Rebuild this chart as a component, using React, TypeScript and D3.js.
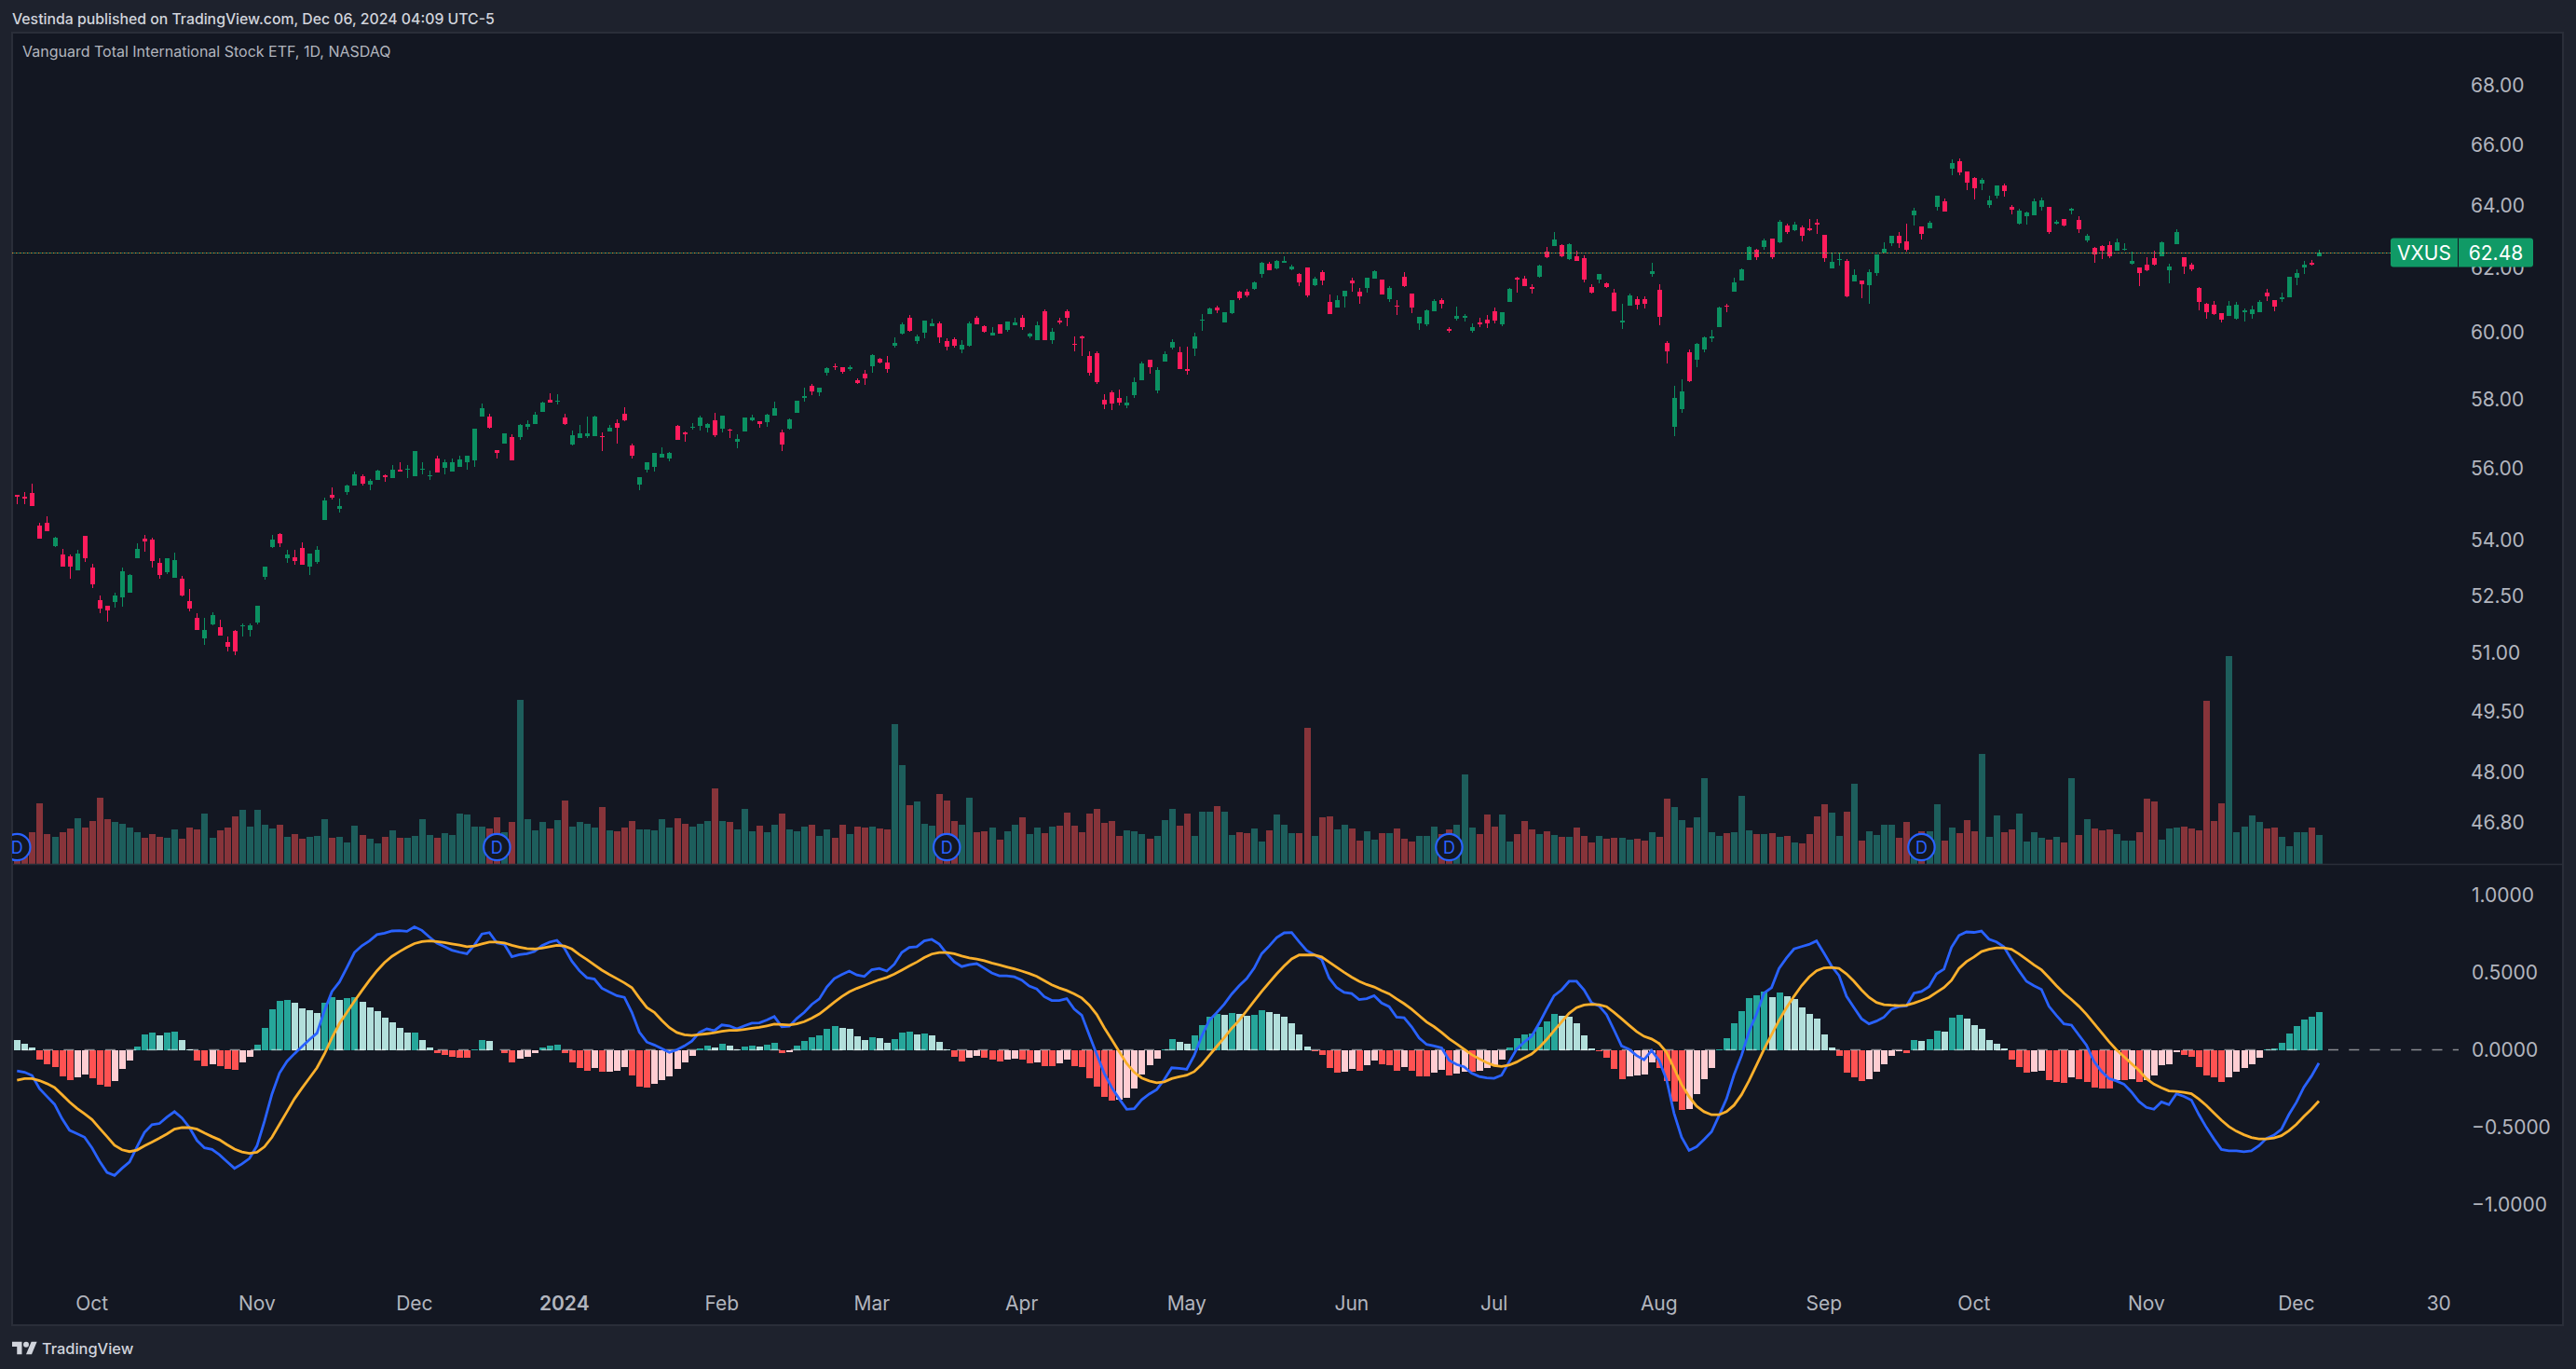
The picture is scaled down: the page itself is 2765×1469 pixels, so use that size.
import * as d3 from 'd3'

// VXUS daily bars (oldest first)
const opens = [
  55.24,55.21,55.31,54.40,54.48,53.84,53.61,53.56,53.18,54.12,
  53.26,52.38,52.24,52.33,52.46,52.58,53.51,54.04,54.01,53.38,
  53.13,52.98,52.95,52.35,51.91,51.38,51.74,51.67,51.28,51.56,
  51.70,51.60,51.79,53.00,53.81,54.17,53.49,53.52,53.79,53.28,
  53.39,54.54,55.26,54.87,55.34,55.50,55.78,55.55,55.67,55.80,
  55.73,55.97,55.97,55.78,55.97,55.77,56.28,56.02,55.90,56.05,
  56.16,56.23,57.50,57.50,56.53,56.71,56.90,56.90,57.20,57.28,
  57.63,57.98,57.93,57.47,56.68,56.87,56.92,56.92,56.92,57.05,
  57.31,57.57,56.66,55.53,55.96,
  56.04,56.30,56.28,57.22,57.03,57.16,57.22,57.16,57.38,57.14,
  57.11,56.76,57.06,57.38,57.36,57.33,57.52,57.03,57.14,57.60,
  58.03,58.39,58.20,58.78,58.98,58.95,58.90,58.56,58.76,58.98,
  59.20,59.09,59.60,59.96,60.45,59.74,59.99,60.19,60.28,59.74,
  59.79,59.49,59.60,60.45,60.19,59.91,60.25,60.08,60.22,60.45,
  59.88,59.77,60.65,59.77,60.36,60.65,59.66,59.88,59.29,59.37,
  57.98,58.20,58.03,57.82,58.12,58.56,59.18,58.26,59.12,59.54,
  59.40,58.90,59.51,60.36,60.56,60.76,60.30,60.59,61.25,61.25,
  61.33,61.80,62.12,61.97,62.15,61.95,61.80,
  62.00,61.45,61.86,60.93,60.76,61.10,61.60,61.25,61.36,61.65,
  61.62,61.02,60.82,61.71,61.19,60.28,60.25,60.65,60.99,60.11,
  60.42,60.45,60.05,60.30,60.39,60.65,60.25,60.93,61.68,61.65,
  61.39,61.71,62.51,62.69,62.72,62.27,62.36,62.30,61.39,61.62,
  61.51,61.22,60.30,60.82,61.02,61.02,61.80,61.30,59.68,57.19,
  57.71,59.40,59.18,59.48,59.82,60.16,60.82,61.25,61.60,62.24,
  62.57,62.66,62.92,62.80,63.34,63.19,63.28,63.25,63.43,63.04,
  61.97,62.24,62.21,61.57,61.60,61.45,61.83,62.48,62.78,63.01,
  62.83,63.67,63.31,63.25,63.94,64.12,65.19,
  65.44,65.10,64.89,64.70,64.00,64.30,64.64,63.94,63.40,63.64,
  63.67,63.94,63.94,63.40,63.55,63.82,63.52,62.86,62.63,62.69,
  62.72,62.54,62.57,62.12,62.00,62.09,62.30,62.36,61.92,62.75,
  62.33,62.09,61.36,60.87,60.84,60.59,60.50,60.42,60.62,60.56,
  60.62,61.22,60.99,61.02,61.07,61.68,62.00,62.15,62.36,
]

const highs = [
  55.26,55.34,55.57,54.46,54.66,54.10,53.76,53.60,53.74,54.12,
  53.36,52.51,52.24,52.58,53.26,53.07,53.92,54.14,54.07,53.50,
  53.50,53.66,53.02,52.68,52.04,51.91,52.06,51.87,51.43,51.59,
  51.76,51.77,52.24,53.28,54.14,54.19,53.72,53.72,53.94,53.64,
  53.84,55.17,55.47,55.15,55.55,55.92,55.83,55.70,55.95,55.82,
  56.10,56.16,56.08,56.50,56.18,55.93,56.37,56.25,56.27,56.35,
  56.35,57.14,57.88,57.57,56.53,57.01,56.97,57.27,57.38,57.63,
  57.93,58.18,58.15,57.57,57.09,57.25,57.50,57.52,57.02,57.25,
  57.41,57.77,56.71,55.76,56.18,
  56.44,56.60,56.47,57.25,57.06,
  57.30,57.52,57.30,57.60,57.52,57.14,56.98,57.47,57.55,57.36,
  57.57,57.93,57.11,57.44,57.95,58.34,58.45,58.34,58.95,59.06,
  58.95,59.01,58.62,58.87,59.34,59.23,59.29,59.85,60.30,60.53,
  59.94,60.36,60.42,60.33,59.82,59.85,59.77,60.33,60.50,60.22,
  60.16,60.25,60.33,60.45,60.53,59.99,60.33,60.70,60.13,60.45,
  60.70,59.88,59.91,59.43,59.43,58.15,58.26,58.28,58.09,58.65,
  59.12,59.18,58.95,59.43,59.79,59.57,59.57,59.99,60.56,60.76,
  60.82,60.62,60.99,61.28,61.33,61.57,62.18,62.18,62.24,62.36,
  62.09,61.83,62.00,61.71,61.92,61.16,61.13,61.27,61.68,61.36,
  61.68,61.92,61.62,61.42,60.99,61.86,61.19,60.47,60.70,61.02,
  61.04,60.16,60.79,60.56,60.28,60.45,60.53,60.76,60.62,61.36,
  61.71,61.74,61.48,62.09,62.66,63.13,62.75,62.78,62.54,62.39,
  61.48,61.80,61.54,61.33,60.87,61.19,61.10,61.10,62.15,61.48,
  59.74,58.39,58.58,59.48,59.68,59.88,60.08,60.79,60.87,61.68,
  61.97,62.69,62.60,62.92,62.92,63.52,63.40,63.46,63.34,63.55,
  63.55,63.04,62.48,62.48,62.27,61.94,61.60,61.94,62.42,62.80,
  63.01,63.13,63.40,63.91,63.31,63.49,64.30,64.21,65.50,65.54,
  65.10,64.92,64.89,64.30,64.64,64.70,64.00,63.88,63.79,64.21,
  64.24,63.94,63.52,63.55,63.91,63.64,63.07,62.66,62.72,62.83,
  62.92,62.78,62.51,62.00,62.33,62.54,62.83,62.12,63.22,62.33,
  62.15,61.39,60.90,60.96,60.59,60.96,60.93,60.73,60.82,60.99,
  61.33,60.99,61.22,61.71,61.94,62.21,62.24,62.57,
]

const lows = [
  55.00,55.00,54.94,54.04,54.23,53.80,53.28,52.95,53.18,53.40,
  52.71,52.02,51.80,52.18,52.21,52.58,53.51,53.69,53.26,52.95,
  53.08,52.98,52.48,52.09,51.60,51.19,51.72,51.45,51.02,50.94,
  51.43,51.43,51.74,52.93,53.79,53.81,53.38,53.33,53.32,53.06,
  53.36,54.54,55.12,54.76,55.26,55.50,55.50,55.37,55.66,55.63,
  55.71,55.90,55.73,55.78,55.83,55.66,55.87,55.83,55.90,56.05,
  55.95,56.03,57.50,57.14,56.28,56.71,56.23,56.82,57.10,57.28,
  57.63,57.91,57.83,57.25,56.66,56.87,56.87,56.92,56.50,57.05,
  56.71,57.34,56.28,55.38,55.87,
  55.91,56.30,56.20,56.82,56.76,
  57.11,57.08,57.03,56.90,57.03,56.87,56.57,57.06,57.36,57.16,
  57.19,57.52,56.49,57.11,57.60,57.93,58.12,58.09,58.70,58.87,
  58.76,58.84,58.45,58.42,58.78,59.06,58.78,59.54,59.94,60.02,
  59.66,59.82,60.19,59.68,59.46,59.54,59.37,59.57,60.25,59.99,
  59.91,59.96,60.02,60.22,60.08,59.82,59.77,59.77,59.66,60.25,
  60.19,59.43,59.29,58.70,58.45,57.71,57.68,57.82,57.74,58.03,
  58.56,58.76,58.17,59.12,59.49,58.90,58.73,59.29,60.05,60.56,
  60.59,60.30,60.56,60.99,61.07,61.30,61.68,61.92,61.95,62.15,
  61.92,61.42,61.07,61.42,61.45,60.56,60.76,60.76,61.25,60.87,
  61.22,61.65,61.16,60.93,60.53,61.39,60.59,60.08,60.19,60.65,
  60.73,59.99,60.36,60.33,59.99,60.16,60.13,60.28,60.19,60.93,
  61.22,61.42,61.19,61.68,62.30,62.69,62.33,62.24,62.21,61.54,
  61.19,61.51,61.36,60.65,60.11,60.82,60.70,60.73,61.71,60.22,
  59.06,56.92,57.60,58.50,58.95,59.40,59.71,60.16,60.62,61.25,
  61.60,62.24,62.24,62.57,62.27,62.78,63.07,63.16,62.83,63.16,
  63.07,62.18,61.97,62.06,61.07,61.57,61.04,60.87,61.74,62.48,
  62.69,62.63,62.51,63.34,62.89,63.25,63.82,63.79,64.98,64.98,
  64.49,64.18,64.49,63.91,64.21,64.27,63.70,63.37,63.37,63.67,
  63.82,63.07,63.37,63.31,63.70,63.10,62.80,62.15,62.27,62.30,
  62.54,62.54,62.09,61.42,61.89,62.06,62.36,61.51,62.75,61.80,
  61.89,60.67,60.42,60.53,60.30,60.50,60.39,60.33,60.42,60.62,
  60.96,60.65,60.93,61.07,61.45,61.80,62.06,62.36,
]

const closes = [
  55.19,55.14,54.94,54.04,54.24,54.06,53.28,53.28,53.63,53.49,
  52.80,52.16,52.11,52.51,53.15,53.06,53.76,53.96,53.43,53.06,
  53.49,53.46,52.51,52.16,51.60,51.60,51.99,51.45,51.15,51.04,
  51.72,51.70,52.24,53.28,54.01,53.92,53.61,53.43,53.33,53.63,
  53.74,55.10,55.17,54.94,55.52,55.83,55.57,55.65,55.93,55.76,
  55.96,55.92,56.00,56.50,56.00,55.81,55.87,56.16,56.16,56.26,
  56.35,57.14,57.74,57.17,56.45,56.99,56.23,57.25,57.28,57.55,
  57.91,57.91,57.96,57.28,56.95,56.99,57.01,57.50,56.90,57.17,
  57.17,57.37,56.35,55.76,56.18,
  56.44,56.41,56.44,56.82,56.98,57.19,57.47,57.27,56.95,57.52,
  57.08,56.84,57.47,57.47,57.27,57.55,57.74,56.68,57.41,57.95,
  58.09,58.23,58.34,58.93,58.95,58.81,58.95,58.48,58.62,59.32,
  59.09,58.90,59.68,60.25,60.05,59.88,60.36,60.28,59.85,59.57,
  59.60,59.63,60.28,60.25,60.02,59.99,59.96,60.33,60.30,60.16,
  59.96,60.22,59.77,60.02,60.30,60.45,59.64,59.82,58.78,58.50,
  57.84,57.87,57.90,57.90,58.50,59.06,58.95,58.87,59.34,59.71,
  58.90,58.84,59.88,60.39,60.73,60.67,60.62,60.99,61.04,61.13,
  61.54,62.15,61.92,62.21,62.21,62.03,61.54,
  61.13,61.65,61.60,60.56,60.99,61.27,61.51,61.10,61.68,61.89,
  61.16,61.36,60.79,61.42,60.76,60.47,60.67,60.96,60.87,60.05,
  60.50,60.50,60.16,60.25,60.28,60.36,60.62,61.33,61.62,61.42,
  61.33,62.06,62.33,62.89,62.36,62.75,62.21,61.62,61.22,61.80,
  61.39,60.65,60.36,61.13,60.84,60.87,61.89,60.47,59.43,58.04,
  58.23,58.53,59.65,59.85,59.88,60.76,60.79,61.54,61.94,62.66,
  62.33,62.86,62.33,63.46,63.13,63.37,63.01,63.19,63.37,62.30,
  62.18,62.27,61.10,61.77,61.48,61.86,62.42,62.60,63.01,62.78,
  62.57,63.82,63.07,63.43,64.30,63.79,65.38,
  65.07,64.73,64.55,64.83,64.15,64.64,64.46,63.85,63.82,63.76,
  64.12,64.15,63.13,63.46,63.34,63.88,63.22,63.01,62.42,62.54,
  62.36,62.80,62.60,62.21,61.83,61.92,62.09,62.80,62.03,63.13,
  62.03,61.94,60.93,60.62,60.56,60.39,60.82,60.84,60.67,60.70,
  60.93,61.10,60.79,61.07,61.71,61.83,62.09,62.09,62.48,
]

// volume, in tens of thousands of shares (relative read-off, no axis in the picture)
const volumes = [
  60,70,102,195,96,87,102,114,147,117,138,213,144,135,129,117,102,84,96,87,
  84,111,81,117,111,162,84,108,117,153,174,120,174,126,114,126,87,96,81,87,
  90,144,84,87,69,123,93,81,66,87,108,84,84,90,144,93,84,99,93,162,
  159,120,120,114,150,102,135,528,144,108,135,114,141,204,120,135,129,117,183,108,
  105,117,138,111,111,108,144,117,147,129,120,129,138,243,138,135,111,177,105,123,
  102,126,162,111,105,120,126,90,111,84,126,96,120,117,120,114,111,450,318,189,
  201,129,123,225,204,138,126,213,102,105,117,78,105,126,150,96,117,99,120,123,
  165,123,102,162,177,132,138,90,108,105,96,81,90,141,177,123,162,90,168,168,
  186,168,93,102,99,114,72,108,159,126,99,99,438,90,150,153,111,126,114,75,
  105,78,99,99,114,81,72,90,90,120,96,111,126,288,117,96,159,120,159,72,
  96,138,111,96,105,93,87,87,117,90,69,90,81,84,84,78,81,75,102,87,
  210,183,141,117,150,276,102,90,99,102,219,108,96,96,99,87,90,69,66,96,
  153,192,165,90,168,258,75,105,93,126,126,84,135,81,105,105,192,75,117,99,
  141,105,354,87,156,102,111,162,72,102,84,78,87,69,276,93,144,114,108,111,
  96,75,75,102,210,201,78,114,117,120,114,108,525,138,195,669,102,120,156,135,
  114,117,87,57,102,102,117,93,
]

// MACD pane
const macdLine = [
  -.137,-.145,-.166,-.251,-.302,-.352,-.445,-.520,-.542,-.565,
  -.634,-.720,-.793,-.812,-.766,-.725,-.627,-.534,-.484,-.476,
  -.435,-.400,-.441,-.503,-.586,-.634,-.644,-.679,-.723,-.766,
  -.737,-.702,-.621,-.462,-.286,-.151,-.075,-.025,.021,.066,
  .108,.253,.377,.439,.532,.629,.673,.704,.745,.754,
  .768,.770,.766,.795,.772,.729,.689,.667,.644,.631,
  .621,.677,.749,.758,.691,.681,.602,.615,.621,.635,
  .673,.696,.708,.658,.573,.511,.466,.457,.398,.373,
  .350,.339,.242,.114,.050,
  .031,.008,-.017,0,.025,.056,.112,.135,.124,.161,
  .155,.135,.155,.172,.174,.193,.215,.149,.153,.203,
  .242,.294,.329,.406,.460,.486,.509,.484,.474,.518,
  .526,.509,.553,.629,.662,.667,.704,.714,.683,.621,
  .569,.538,.551,.557,.528,.497,.478,.478,.472,.451,
  .412,.393,.344,.319,.319,.331,.263,.224,.097,-.029,
  -.151,-.244,-.317,-.385,-.381,-.323,-.286,-.257,-.193,-.116,
  -.120,-.126,-.037,.087,.190,.240,.294,.360,.414,.460,
  .528,.621,.671,.725,.756,.758,.698,
  .642,.615,.584,.464,.402,.371,.364,.325,.331,.350,
  .302,.279,.211,.207,.149,.077,.035,.025,.012,-.068,
  -.095,-.110,-.151,-.172,-.182,-.184,-.164,-.079,.004,.050,
  .087,.170,.263,.350,.387,.443,.443,.387,.304,.284,
  .228,.128,.025,.004,-.037,-.064,-.004,-.068,-.193,-.410,
  -.565,-.650,-.627,-.580,-.530,-.426,-.317,-.161,-.037,.118,
  .232,.366,.402,.526,.594,.652,.667,.681,.704,.625,
  .542,.480,.346,.273,.201,.168,.186,.211,.263,.279,
  .284,.366,.377,.408,.491,.522,.662,
  .739,.762,.759,.768,.715,.697,.665,.585,.511,.443,
  .414,.390,.281,.222,.168,.160,.095,.030,-.074,-.139,
  -.186,-.201,-.222,-.272,-.334,-.372,-.384,-.337,-.355,-.284,
  -.301,-.325,-.419,-.502,-.576,-.644,-.653,-.653,-.659,-.653,
  -.620,-.573,-.552,-.514,-.419,-.340,-.242,-.171,-.086,
]

const signalLine = [
  -.197,-.186,-.186,-.199,-.219,-.244,-.290,-.337,-.379,-.414,
  -.451,-.507,-.561,-.617,-.646,-.658,-.648,-.621,-.596,-.571,
  -.544,-.513,-.503,-.503,-.513,-.538,-.561,-.582,-.613,-.642,
  -.660,-.669,-.662,-.627,-.565,-.482,-.400,-.317,-.248,-.182,
  -.116,-.027,.077,.170,.242,.315,.383,.449,.511,.563,
  .604,.635,.662,.687,.700,.704,.700,.693,.685,.677,
  .667,.671,.685,.696,.696,.691,.675,.664,.654,.652,
  .658,.667,.675,.671,.652,.615,.584,.549,.515,.486,
  .460,.433,.402,.335,.273,
  .242,.190,.143,.112,.097,.093,.099,.104,.110,.120,
  .126,.126,.132,.139,.145,.155,.166,.164,.161,.168,
  .182,.205,.232,.269,.308,.344,.375,.397,.416,.435,
  .453,.468,.489,.515,.542,.567,.596,.619,.629,.629,
  .621,.606,.594,.586,.576,.561,.549,.536,.524,.509,
  .493,.474,.447,.420,.400,.383,.362,.335,.290,.228,
  .143,.066,-.012,-.089,-.145,-.182,-.201,-.213,-.207,-.186,
  -.174,-.164,-.141,-.095,-.037,.021,.077,.139,.190,.253,
  .315,.377,.435,.491,.542,.588,.613,
  .613,.613,.600,.567,.534,.501,.470,.443,.422,.406,
  .383,.362,.329,.298,.263,.221,.180,.149,.112,.072,
  .039,.004,-.031,-.058,-.083,-.101,-.108,-.099,-.079,-.052,
  -.027,.014,.066,.124,.180,.236,.273,.290,.294,.292,
  .279,.242,.201,.159,.118,.087,.070,.041,-.017,-.120,
  -.224,-.302,-.364,-.400,-.420,-.420,-.400,-.358,-.290,-.199,
  -.099,.004,.097,.190,.273,.346,.414,.470,.511,.530,
  .532,.526,.491,.443,.387,.339,.306,.292,.288,.286,
  .288,.302,.319,.339,.371,.402,.449,
  .526,.570,.600,.635,.650,.659,.659,.650,.620,.585,
  .549,.517,.467,.414,.366,.325,.281,.230,.171,.112,
  .053,0,-.044,-.089,-.133,-.186,-.222,-.245,-.266,-.269,
  -.275,-.284,-.319,-.360,-.408,-.455,-.496,-.526,-.549,-.567,
  -.576,-.576,-.570,-.555,-.523,-.482,-.431,-.384,-.331,
]

const histogram = [
  .064,.039,.017,-.062,-.093,-.110,-.172,-.195,-.176,-.159,
  -.182,-.226,-.238,-.201,-.122,-.068,.023,.097,.112,.093,
  .112,.118,.064,.004,-.068,-.106,-.093,-.106,-.122,-.128,
  -.081,-.043,.033,.143,.263,.317,.323,.304,.269,.257,
  .238,.304,.342,.323,.335,.342,.311,.275,.251,.209,
  .178,.143,.112,.114,.064,.017,-.021,-.033,-.043,-.050,
  -.050,.004,.064,.058,-.004,-.021,-.081,-.056,-.043,-.021,
  .017,.027,.033,-.021,-.081,-.116,-.135,-.116,-.141,-.140,
  -.135,-.110,-.166,-.238,-.242,
  -.219,-.195,-.172,-.122,-.081,-.037,.010,.027,.017,.039,
  .027,.004,.023,.027,.023,.033,.046,-.021,-.014,.027,
  .058,.083,.093,.137,.155,.143,.137,.089,.064,.083,
  .077,.046,.070,.112,.118,.099,.106,.093,.052,.004,
  -.043,-.075,-.050,-.037,-.050,-.062,-.075,-.062,-.056,-.062,
  -.087,-.081,-.106,-.106,-.087,-.062,-.106,-.110,-.182,-.238,
  -.304,-.327,-.325,-.308,-.248,-.159,-.099,-.056,.004,.070,
  .052,.039,.093,.159,.215,.232,.226,.238,.232,.222,
  .226,.257,.244,.232,.215,.172,.099,
  .023,-.012,-.031,-.116,-.147,-.141,-.122,-.135,-.099,-.068,
  -.093,-.099,-.135,-.110,-.135,-.172,-.172,-.147,-.128,-.166,
  -.153,-.141,-.141,-.135,-.116,-.099,-.062,.017,.077,.099,
  .106,.149,.184,.232,.222,.215,.172,.093,.010,-.012,
  -.050,-.122,-.188,-.172,-.166,-.159,-.081,-.116,-.201,-.333,
  -.387,-.381,-.286,-.188,-.116,.004,.077,.172,.251,.335,
  .354,.377,.342,.371,.348,.329,.275,.232,.203,.099,
  .017,-.037,-.147,-.176,-.201,-.188,-.141,-.093,-.037,-.012,
  -.019,.064,.058,.070,.124,.118,.209,
  .227,.204,.160,.136,.065,.041,.009,-.062,-.109,-.148,
  -.139,-.136,-.195,-.207,-.213,-.177,-.189,-.207,-.242,-.248,
  -.248,-.195,-.195,-.192,-.207,-.198,-.168,-.097,-.092,-.015,
  -.032,-.044,-.109,-.165,-.177,-.207,-.177,-.139,-.115,-.092,
  -.050,.003,.012,.047,.106,.154,.198,.216,.245,
]

const priceTicks = [68, 66, 64, 62, 60, 58, 56, 54, 52.5, 51, 49.5, 48, 46.8]
const macdTicks = [1, 0.5, 0, -0.5, -1]
const timeLabels = ['Oct', 'Nov', 'Dec', '2024', 'Feb', 'Mar', 'Apr', 'May', 'Jun', 'Jul', 'Aug', 'Sep', 'Oct', 'Nov', 'Dec', '30']
const timeBars = [10, 32, 53, 73, 94, 114, 134, 156, 178, 197, 219, 241, 261, 284, 304, 323]
const dividendBars = [0, 64, 124, 191, 254]
const lastPrice = 62.48

const W = 2765
const H = 1469
const pane = { left: 13, right: 2751, top: 35, bottom: 1422, split: 927 }
const FONT = 'Inter, "Noto Sans", sans-serif'
const BG = '#131722'
const FRAME = '#1e222d'
const BORDER = '#2a2e39'
const AXIS_TEXT = '#b2b5be'
const UP = '#0b9061'
const DOWN = '#ff1c5c'

const x = d3.scaleLinear().domain([0, 307]).range([18.3, 2489])
const yPrice = d3.scaleLog().domain([66, 46.8]).range([155, 155 + 2115 * Math.log(66 / 46.8)])
const yVolume = d3.scaleLinear().domain([0, 669]).range([pane.split, 704])
const yMacd = d3.scaleLinear().domain([1, -1]).range([960.5, 1292.5])

const macdPath = d3.line<number>().x((_, i) => x(i)).y((d) => yMacd(d))

function histColor(i: number) {
  const v = histogram[i]
  const rising = i > 0 && v > histogram[i - 1]
  if (v >= 0) return rising ? '#26a69a' : '#b2dfdb'
  return rising ? '#ffcdd2' : '#ff5252'
}

export default function App() {
  const lastY = Math.round(yPrice(lastPrice)) + 0.5

  return (
    <svg
      width={W}
      height={H}
      style={{ position: 'absolute', left: 0, top: 0, display: 'block', fontFamily: FONT }}
    >
      <defs>
        <clipPath id="pane">
          <rect x={pane.left} y={pane.top} width={pane.right - pane.left} height={pane.bottom - pane.top} />
        </clipPath>
      </defs>

      <rect width={W} height={H} fill={FRAME} />
      <rect
        x={pane.left}
        y={pane.top}
        width={pane.right - pane.left}
        height={pane.bottom - pane.top}
        fill={BG}
        stroke={BORDER}
        strokeWidth={2}
      />

      <text x={13} y={26} fontSize={15.8} fontWeight={500} fill="#d1d4dc">
        Vestinda published on TradingView.com, Dec 06, 2024 04:09 UTC-5
      </text>
      <text x={24} y={61} fontSize={16} fill={AXIS_TEXT}>
        Vanguard Total International Stock ETF, 1D, NASDAQ
      </text>

      <g clipPath="url(#pane)">
        {/* Volume */}
        <g shapeRendering="crispEdges">
          {volumes.map((v, i) => (
            <rect
              key={i}
              x={Math.round(x(i)) - 3.5}
              y={yVolume(v)}
              width={7}
              height={yVolume(0) - yVolume(v)}
              fill={closes[i] >= opens[i] ? '#1d5e5c' : '#87343a'}
            />
          ))}
        </g>

        {/* Dividend markers */}
        {dividendBars.map((b) => (
          <g key={b} transform={`translate(${x(b)},909)`}>
            <circle r={14.2} fill={BG} stroke="#2962ff" strokeWidth={2.2} />
            <text textAnchor="middle" y={6.5} fontSize={18} fill="#2962ff">
              D
            </text>
          </g>
        ))}

        {/* Candles */}
        <g shapeRendering="crispEdges">
          {closes.map((c, i) => {
            const o = opens[i]
            const color = c >= o ? UP : DOWN
            const top = yPrice(Math.max(o, c))
            const cx = Math.round(x(i))
            return (
              <g key={i} fill={color}>
                <rect x={cx - 0.5} y={yPrice(highs[i])} width={1} height={yPrice(lows[i]) - yPrice(highs[i])} />
                <rect x={cx - 2.5} y={top} width={5} height={Math.max(1, yPrice(Math.min(o, c)) - top)} />
              </g>
            )
          })}
        </g>

        {/* Last price lines, dotted */}
        <line x1={pane.left} x2={2566} y1={lastY} y2={lastY} stroke="#f2a93b" strokeOpacity={0.85} strokeDasharray="1.5 2.5" />
        <line
          x1={pane.left}
          x2={2566}
          y1={lastY}
          y2={lastY}
          stroke="#089981"
          strokeOpacity={0.85}
          strokeDasharray="1.5 2.5"
          strokeDashoffset={2}
        />

        {/* MACD histogram */}
        <g shapeRendering="crispEdges">
          {histogram.map((v, i) => (
            <rect
              key={i}
              x={Math.round(x(i)) - 3.5}
              y={Math.min(yMacd(v), yMacd(0))}
              width={7}
              height={Math.abs(yMacd(v) - yMacd(0))}
              fill={histColor(i)}
            />
          ))}
        </g>
        <line
          x1={1.4}
          x2={2639}
          y1={yMacd(0)}
          y2={yMacd(0)}
          stroke="#fff"
          strokeOpacity={0.5}
          strokeWidth={1.4}
          strokeDasharray="11 11.3"
        />
        <path d={macdPath(macdLine) ?? ''} fill="none" stroke="#2962ff" strokeWidth={2.8} />
        <path d={macdPath(signalLine) ?? ''} fill="none" stroke="#fbb02c" strokeWidth={2.8} />
      </g>

      <line x1={pane.left} x2={pane.right} y1={pane.split + 0.5} y2={pane.split + 0.5} stroke={BORDER} strokeWidth={1.5} />

      {/* Price axis */}
      <g fontSize={21} fill={AXIS_TEXT}>
        {priceTicks.map((t) => (
          <text key={t} x={2652} y={yPrice(t)} dy="0.36em">
            {t.toFixed(2)}
          </text>
        ))}
      </g>

      {/* Last price label */}
      <g>
        <rect x={2566} y={lastY - 16} width={153} height={31} rx={3} fill="#109a66" />
        <line x1={2638.5} x2={2638.5} y1={lastY - 16} y2={lastY + 15} stroke={BG} strokeWidth={1} />
        <text x={2602} y={lastY} dy="0.36em" textAnchor="middle" fontSize={21} fill="#fff">
          VXUS
        </text>
        <text x={2679} y={lastY} dy="0.36em" textAnchor="middle" fontSize={21} fill="#fff">
          {lastPrice.toFixed(2)}
        </text>
      </g>

      {/* MACD axis */}
      <g fontSize={21} fill={AXIS_TEXT}>
        {macdTicks.map((t) => (
          <text key={t} x={2653} y={yMacd(t)} dy="0.36em">
            {t < 0 ? `\u2212${(-t).toFixed(4)}` : t.toFixed(4)}
          </text>
        ))}
      </g>

      {/* Time axis */}
      <g fontSize={21} fill={AXIS_TEXT} textAnchor="middle">
        {timeLabels.map((label, i) => (
          <text
            key={i}
            x={x(timeBars[i])}
            y={1398}
            dy="0.36em"
            fontWeight={label === '2024' ? 600 : 400}
          >
            {label}
          </text>
        ))}
      </g>

      {/* TradingView logo */}
      <g transform="translate(13,1434.5) scale(0.75)" fill="#d1d4dc">
        <path d="M14 25H7V14H0V7h14v18z" />
        <circle cx={20} cy={11} r={4} />
        <path d="M28 25h-8l7.5-18h8L28 25z" />
      </g>
      <text x={45} y={1447} dy="0.36em" fontSize={16.4} fontWeight={500} fill="#d1d4dc">
        TradingView
      </text>
    </svg>
  )
}
